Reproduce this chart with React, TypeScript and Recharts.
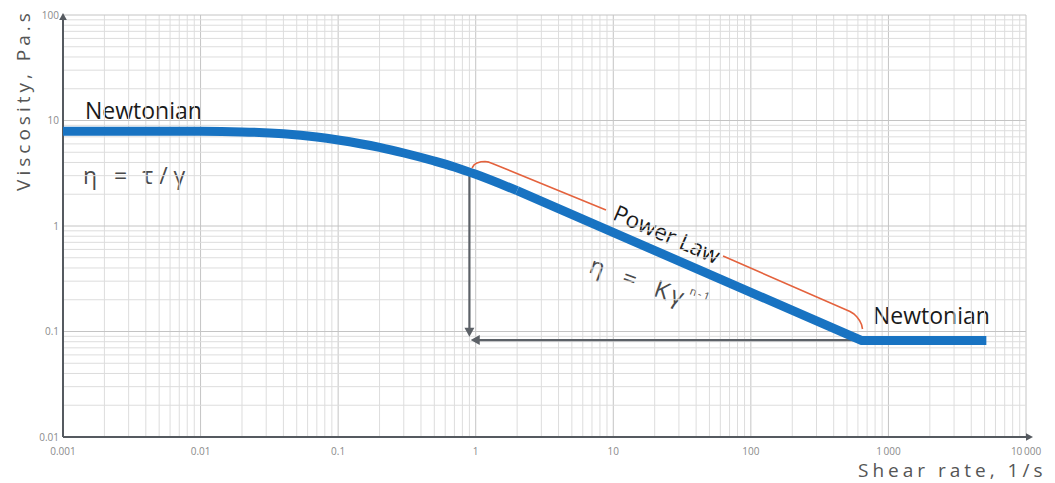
import React from 'react';
import { LineChart, Line, XAxis, YAxis, ReferenceLine, Customized } from 'recharts';

// ---- data ----
const xTicks = [0.001, 0.01, 0.1, 1, 10, 100, 1000, 10000];
const xTickLabels = ['0.001', '0.01', '0.1', '1', '10', '100', '1\u2009000', '10\u2009000'];
const yTicks = [0.01, 0.1, 1, 10, 100];
const yTickLabels = ['0.01', '0.1', '1', '10', '100'];

const xDecades = [0.001, 0.01, 0.1, 1, 10, 100, 1000];
const yDecades = [0.01, 0.1, 1, 10];
const gridSteps = [1, 2, 3, 4, 5, 6, 7, 8, 9];

// shear-thinning transition (smooth)
const transitionRate = [0.001, 0.01, 0.02, 0.04, 0.07, 0.1, 0.2, 0.3, 0.5, 0.7, 1, 2];
const transitionVisc = [7.9, 7.89, 7.8, 7.48, 6.97, 6.53, 5.56, 4.92, 4.13, 3.63, 3.09, 2.16];
// power law + second Newtonian plateau (straight)
const powerRate = [2, 641, 5150];
const powerVisc = [2.16, 0.082, 0.082];

const bracketRateA = [0.94, 0.972, 1.022, 1.093, 1.168, 1.249, 1.335, 8.85];
const bracketViscA = [3.55, 3.79, 3.96, 4.06, 4.08, 4.03, 3.9, 1.418];
const bracketRateB = [62.8, 525.6, 562.1, 590.9, 616.2, 637.3, 648.1];
const bracketViscB = [0.5195, 0.1547, 0.1465, 0.1372, 0.1272, 0.1165, 0.1056];

const dropArrowRate = [0.9, 0.9];
const dropArrowVisc = [3.3, 0.089];
const backArrowRate = [625, 0.92];
const backArrowVisc = [0.083, 0.083];

const transitionCurve = transitionRate.map((x, i) => ({ x, v: transitionVisc[i] }));
const powerCurve = powerRate.map((x, i) => ({ x, v: powerVisc[i] }));
const bracketA = bracketRateA.map((x, i) => ({ x, v: bracketViscA[i] }));
const bracketB = bracketRateB.map((x, i) => ({ x, v: bracketViscB[i] }));

const vGrid = xDecades.flatMap((d) => gridSteps.map((s) => ({ v: d * s, major: s === 1 }))).concat([{ v: 10000, major: true }]);
const hGrid = yDecades.flatMap((d) => gridSteps.map((s) => ({ v: d * s, major: s === 1 }))).concat([{ v: 100, major: true }]);

const FONT = '"Open Sans", "DejaVu Sans", sans-serif';
const AXIS_COLOR = '#555a60';
const ARROW_COLOR = '#5c6167';
const BLUE = '#1873c2';
const RED = '#e4623d';

const arrowShape = (color: string, width: number, head: number, extend: number) => (props: any) => {
  const { x1, y1, x2, y2 } = props;
  const dx = x2 - x1;
  const dy = y2 - y1;
  const len = Math.hypot(dx, dy) || 1;
  const ux = dx / len;
  const uy = dy / len;
  const tx = x2 + ux * extend;
  const ty = y2 + uy * extend;
  const bx = tx - ux * head;
  const by = ty - uy * head;
  const px = -uy;
  const py = ux;
  const hw = head * 0.55;
  return (
    <g>
      <line x1={x1} y1={y1} x2={bx + ux} y2={by + uy} stroke={color} strokeWidth={width} />
      <polygon points={`${tx},${ty} ${bx + px * hw},${by + py * hw} ${bx - px * hw},${by - py * hw}`} fill={color} />
    </g>
  );
};

const Annotations = () => (
  <g style={{ fontFamily: FONT }}>
    <text x={77} y={111} fontSize={23} fill="#1a1a1a">Newtonian</text>
    <text x={75} y={176} fontSize={23} fill="#4a4a4a">
      <tspan>η</tspan>
      <tspan dx={17}>=</tspan>
      <tspan dx={15}>τ</tspan>
      <tspan dx={6}>/</tspan>
      <tspan dx={6}>γ</tspan>
    </text>
    <text x={659} y={226} fontSize={22.5} fill="#1a1a1a" textAnchor="middle" dominantBaseline="central" transform="rotate(23.5 659 226)">Power Law</text>
    <text x={642} y={276} fontSize={24} fill="#4a4a4a" textAnchor="middle" dominantBaseline="central" transform="rotate(20 642 276)">
      <tspan>η</tspan>
      <tspan dx={20}>=</tspan>
      <tspan dx={20}>K</tspan>
      <tspan dx={3}>γ</tspan>
      <tspan dx={4} dy={-9} fontSize={11} letterSpacing={2}>n-1</tspan>
    </text>
    <text x={865} y={316} fontSize={23} fill="#1a1a1a">Newtonian</text>
    <text x={15} y={92} fontSize={19} fill="#555" letterSpacing={4} textAnchor="middle" dominantBaseline="central" transform="rotate(-90 15 92)">Viscosity, Pa.s</text>
    <text x={850} y={469} fontSize={19} fill="#555" letterSpacing={4}>Shear rate, 1/s</text>
  </g>
);

const xFmt = (v: number) => {
  const i = xTicks.findIndex((t) => Math.abs(Math.log10(t) - Math.log10(v)) < 1e-6);
  return i >= 0 ? xTickLabels[i] : '';
};
const yFmt = (v: number) => {
  const i = yTicks.findIndex((t) => Math.abs(Math.log10(t) - Math.log10(v)) < 1e-6);
  return i >= 0 ? yTickLabels[i] : '';
};

export default function App() {
  return (
    <div style={{ width: 1047, height: 475, background: '#fff' }}>
      <LineChart width={1047} height={475} margin={{ top: 7, right: 29, bottom: 0, left: 0 }}>
        <XAxis
          type="number"
          dataKey="x"
          scale="log"
          domain={[0.001, 10000]}
          allowDataOverflow
          ticks={xTicks}
          tickFormatter={xFmt}
          axisLine={false}
          tickLine={false}
          tickSize={0}
          tickMargin={11}
          height={46}
          interval={0}
          tick={{ fontSize: 10, fill: '#8a8a8a', fontFamily: FONT }}
        />
        <YAxis
          type="number"
          scale="log"
          domain={[0.01, 100]}
          allowDataOverflow
          ticks={yTicks}
          tickFormatter={yFmt}
          axisLine={false}
          tickLine={false}
          tickSize={0}
          tickMargin={4}
          width={55}
          interval={0}
          tick={{ fontSize: 10, fill: '#8a8a8a', fontFamily: FONT }}
        />
        {vGrid.map((g, i) => (
          <ReferenceLine key={'v' + i} x={g.v} stroke={g.major ? '#c4c4c4' : '#dddddd'} strokeWidth={1} ifOverflow="visible" />
        ))}
        {hGrid.map((g, i) => (
          <ReferenceLine key={'h' + i} y={g.v} stroke={g.major ? '#c4c4c4' : '#dddddd'} strokeWidth={1} ifOverflow="visible" />
        ))}
        <ReferenceLine
          segment={[{ x: 0.001, y: 0.01 }, { x: 0.001, y: 100 }]}
          ifOverflow="visible"
          shape={arrowShape(AXIS_COLOR, 2, 7, 2)}
        />
        <ReferenceLine
          segment={[{ x: 0.001, y: 0.01 }, { x: 10000, y: 0.01 }]}
          ifOverflow="visible"
          shape={arrowShape(AXIS_COLOR, 2, 7, 7)}
        />
        <ReferenceLine
          segment={[{ x: dropArrowRate[0], y: dropArrowVisc[0] }, { x: dropArrowRate[1], y: dropArrowVisc[1] }]}
          ifOverflow="visible"
          shape={arrowShape(ARROW_COLOR, 2.2, 9, 0)}
        />
        <ReferenceLine
          segment={[{ x: backArrowRate[0], y: backArrowVisc[0] }, { x: backArrowRate[1], y: backArrowVisc[1] }]}
          ifOverflow="visible"
          shape={arrowShape(ARROW_COLOR, 2.2, 9, 0)}
        />
        <Line
          data={transitionCurve}
          dataKey="v"
          type="monotone"
          stroke={BLUE}
          strokeWidth={9}
          strokeLinejoin="round"
          dot={false}
          activeDot={false}
          isAnimationActive={false}
        />
        <Line
          data={powerCurve}
          dataKey="v"
          type="linear"
          stroke={BLUE}
          strokeWidth={9}
          strokeLinejoin="round"
          dot={false}
          activeDot={false}
          isAnimationActive={false}
        />
        <Line
          data={bracketA}
          dataKey="v"
          type="linear"
          stroke={RED}
          strokeWidth={1.6}
          strokeLinejoin="round"
          dot={false}
          activeDot={false}
          isAnimationActive={false}
        />
        <Line
          data={bracketB}
          dataKey="v"
          type="linear"
          stroke={RED}
          strokeWidth={1.6}
          strokeLinejoin="round"
          dot={false}
          activeDot={false}
          isAnimationActive={false}
        />
        <Customized component={Annotations} />
      </LineChart>
    </div>
  );
}
